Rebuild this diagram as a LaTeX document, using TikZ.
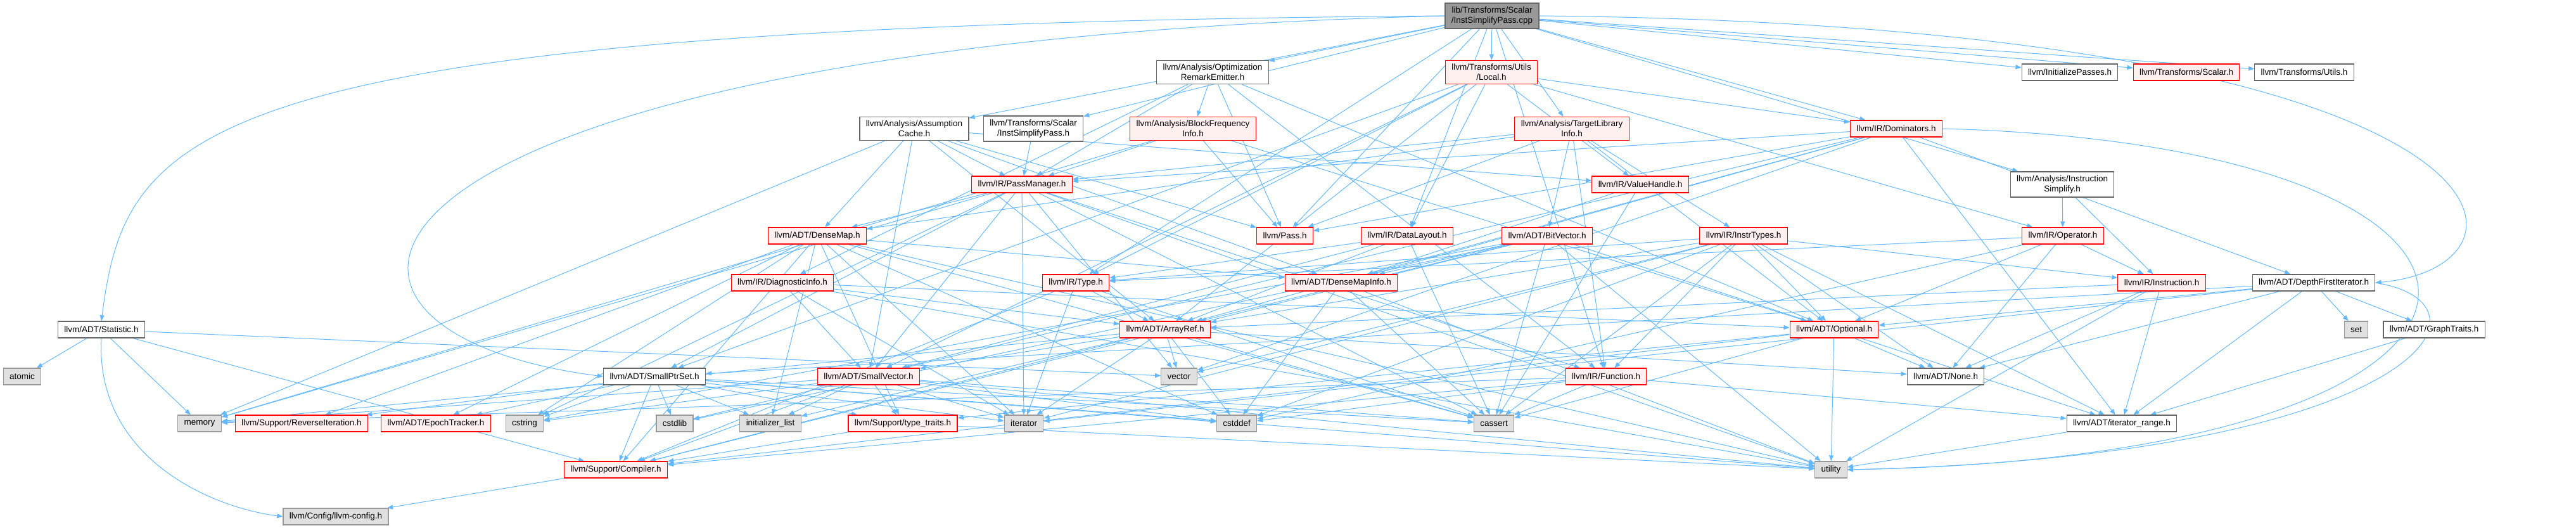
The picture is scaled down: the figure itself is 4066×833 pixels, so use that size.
\documentclass[tikz,border=0pt]{standalone}
\usepackage{fontspec}
\setmainfont{Liberation Sans}
\usetikzlibrary{arrows.meta,backgrounds}
\definecolor{edgeblue}{HTML}{63B8FF}
\definecolor{redline}{HTML}{FF0000}
\definecolor{redfill}{HTML}{FFF0F0}
\definecolor{sysfill}{HTML}{E0E0E0}
\definecolor{sysline}{HTML}{999999}
\definecolor{plainline}{HTML}{666666}
\definecolor{mainfill}{HTML}{999999}

\begin{document}
\begin{tikzpicture}[
    x=0.025cm, y=0.025cm,
    every node/.style={rectangle, line width=0.8pt, font=\fontsize{9.6}{11.5}\selectfont, inner xsep=7pt, inner ysep=4pt, minimum height=18.5pt, align=center},
    hdr/.style={draw=plainline, fill=white},
    trunc/.style={draw=redline, fill=redfill},
    sys/.style={draw=sysline, fill=sysfill},
    mainfile/.style={draw=plainline, fill=mainfill},
    inc/.style={draw=edgeblue, line width=0.7pt, -{Triangle[length=6.5pt,width=5pt]}}
]
\useasboundingbox (0,0) rectangle (4066,-833);

% ---- the file itself ----
\node[mainfile] (cpp) at (2355,-25) {lib/Transforms/Scalar\\/InstSimplifyPass.cpp};

% ---- analysis / pass headers ----
\node[hdr] (ore) at (1914,-114) {llvm/Analysis/Optimization\\RemarkEmitter.h};
\node[trunc] (local) at (2354,-114) {llvm/Transforms/Utils\\/Local.h};
\node[hdr] (initp) at (3267,-114) {llvm/InitializePasses.h};
\node[trunc] (tscalar) at (3451,-114) {llvm/Transforms/Scalar.h};
\node[hdr] (tutils) at (3637,-114) {llvm/Transforms/Utils.h};
\node[hdr] (acache) at (1443,-203) {llvm/Analysis/Assumption\\Cache.h};
\node[hdr] (isp) at (1631,-203) {llvm/Transforms/Scalar\\/InstSimplifyPass.h};
\node[trunc] (bfi) at (1883,-203) {llvm/Analysis/BlockFrequency\\Info.h};
\node[trunc] (tli) at (2481,-203) {llvm/Analysis/TargetLibrary\\Info.h};
\node[trunc] (dom) at (2993,-203) {llvm/IR/Dominators.h};
\node[trunc] (pm) at (1613,-291) {llvm/IR/PassManager.h};
\node[trunc] (vh) at (2589,-291) {llvm/IR/ValueHandle.h};
\node[hdr] (isimp) at (3255,-291) {llvm/Analysis/Instruction\\Simplify.h};

% ---- IR and ADT headers ----
\node[trunc] (dmap) at (1290,-372) {llvm/ADT/DenseMap.h};
\node[trunc] (pass) at (2028,-372) {llvm/Pass.h};
\node[trunc] (dl) at (2221,-372) {llvm/IR/DataLayout.h};
\node[trunc] (bv) at (2442,-372) {llvm/ADT/BitVector.h};
\node[trunc] (instrt) at (2752,-372) {llvm/IR/InstrTypes.h};
\node[trunc] (oper) at (3256,-372) {llvm/IR/Operator.h};
\node[trunc] (diag) at (1235,-446) {llvm/IR/DiagnosticInfo.h};
\node[trunc] (type) at (1698,-446) {llvm/IR/Type.h};
\node[trunc] (dmi) at (2117,-446) {llvm/ADT/DenseMapInfo.h};
\node[trunc] (inst) at (3412,-446) {llvm/IR/Instruction.h};
\node[hdr] (dfi) at (3652,-446) {llvm/ADT/DepthFirstIterator.h};
\node[hdr] (stat) at (160,-520) {llvm/ADT/Statistic.h};
\node[trunc] (aref) at (1839,-520) {llvm/ADT/ArrayRef.h};
\node[trunc] (opt) at (2895,-520) {llvm/ADT/Optional.h};
\node[sys] (stdset) at (3719,-520) {set};
\node[hdr] (gtraits) at (3842,-520) {llvm/ADT/GraphTraits.h};
\node[sys] (atomic) at (35,-594) {atomic};
\node[hdr] (sptr) at (1033,-594) {llvm/ADT/SmallPtrSet.h};
\node[trunc] (svec) at (1371,-594) {llvm/ADT/SmallVector.h};
\node[sys] (vector) at (1861,-594) {vector};
\node[trunc] (fn) at (2535,-594) {llvm/IR/Function.h};
\node[hdr] (none) at (3071,-594) {llvm/ADT/None.h};

% ---- leaves ----
\node[sys] (memory) at (315,-668) {memory};
\node[trunc] (reviter) at (476,-668) {llvm/Support/ReverseIteration.h};
\node[trunc] (epoch) at (688,-668) {llvm/ADT/EpochTracker.h};
\node[sys] (cstring) at (828,-668) {cstring};
\node[sys] (cstdlib) at (1065,-668) {cstdlib};
\node[sys] (initl) at (1216,-668) {initializer\_list};
\node[trunc] (ttraits) at (1425,-668) {llvm/Support/type\_traits.h};
\node[sys] (iter) at (1616,-668) {iterator};
\node[sys] (cstddef) at (1952,-668) {cstddef};
\node[sys] (cassert) at (2358,-668) {cassert};
\node[hdr] (itrange) at (3349,-668) {llvm/ADT/iterator\_range.h};
\node[trunc] (compiler) at (972,-741) {llvm/Support/Compiler.h};
\node[sys] (utility) at (2890,-741) {utility};
\node[sys] (config) at (530,-815) {llvm/Config/llvm-config.h};

\begin{scope}[on background layer]
% ---- includes of the file ----
\draw[inc] (cpp.west) .. controls (300,-40) and (200,-200) .. (stat.north);
\draw[inc] (cpp.west) .. controls (500,-70) and (380,-520) .. (sptr.west);
\draw[inc] (cpp.east) .. controls (4000,-40) and (4040,-420) .. (dfi.east);
\draw[inc] (cpp)--(ore); \draw[inc] (cpp)--(local); \draw[inc] (cpp)--(initp); \draw[inc] (cpp)--(tscalar); \draw[inc] (cpp)--(tutils);
\draw[inc] (cpp)--(acache); \draw[inc] (cpp)--(isp); \draw[inc] (cpp)--(tli); \draw[inc] (cpp)--(dom); \draw[inc] (cpp)--(isimp);
\draw[inc] (cpp)--(pass); \draw[inc] (cpp)--(dl); \draw[inc] (cpp)--(type); \draw[inc] (cpp)--(fn);

% ---- second level ----
\draw[inc] (ore)--(bfi); \draw[inc] (ore)--(pass); \draw[inc] (ore)--(pm); \draw[inc] (ore)--(diag); \draw[inc] (ore)--(opt); \draw[inc] (ore)--(fn);
\draw[inc] (local)--(aref); \draw[inc] (local)--(sptr); \draw[inc] (local)--(svec); \draw[inc] (local)--(dl); \draw[inc] (local)--(dom); \draw[inc] (local)--(oper); \draw[inc] (local)--(type); \draw[inc] (local)--(vh);
\draw[inc] (acache)--(aref); \draw[inc] (acache)--(dmap); \draw[inc] (acache)--(dmi); \draw[inc] (acache)--(svec); \draw[inc] (acache)--(pm); \draw[inc] (acache)--(vh); \draw[inc] (acache)--(pass); \draw[inc] (acache)--(memory);
\draw[inc] (isp)--(pm);
\draw[inc] (bfi)--(opt); \draw[inc] (bfi)--(pm); \draw[inc] (bfi)--(pass); \draw[inc] (bfi)--(memory);
\draw[inc] (tli)--(bv); \draw[inc] (tli)--(dmap); \draw[inc] (tli)--(opt); \draw[inc] (tli)--(fn); \draw[inc] (tli)--(instrt); \draw[inc] (tli)--(pm); \draw[inc] (tli)--(pass);
\draw[inc] (dom)--(aref); \draw[inc] (dom)--(dmi); \draw[inc] (dom)--(dfi); \draw[inc] (dom)--(svec); \draw[inc] (dom)--(itrange); \draw[inc] (dom)--(pm); \draw[inc] (dom)--(pass); \draw[inc] (dom)--(vector);
\draw[inc] (dom.east) .. controls (4090,-230) and (4090,-720) .. (utility.east);
\draw[inc] (isimp)--(inst); \draw[inc] (isimp)--(oper);
\draw[inc] (vh)--(dmi); \draw[inc] (vh)--(cassert);
\draw[inc] (pm)--(dmap); \draw[inc] (pm)--(sptr); \draw[inc] (pm)--(svec); \draw[inc] (pm)--(fn); \draw[inc] (pm)--(cassert); \draw[inc] (pm)--(cstring);
\draw[inc] (pm)--(iter); \draw[inc] (pm)--(memory); \draw[inc] (pm)--(utility); \draw[inc] (pm)--(vector);

% ---- IR headers ----
\draw[inc] (dl)--(aref); \draw[inc] (dl)--(svec); \draw[inc] (dl)--(type); \draw[inc] (dl)--(cassert);
\draw[inc] (bv)--(aref); \draw[inc] (bv)--(dmi); \draw[inc] (bv)--(itrange); \draw[inc] (bv)--(compiler); \draw[inc] (bv)--(cassert); \draw[inc] (bv)--(cstdlib); \draw[inc] (bv)--(cstring); \draw[inc] (bv)--(utility);
\draw[inc] (instrt)--(aref); \draw[inc] (instrt)--(none); \draw[inc] (instrt)--(opt); \draw[inc] (instrt)--(itrange); \draw[inc] (instrt)--(fn); \draw[inc] (instrt)--(inst);
\draw[inc] (instrt)--(type); \draw[inc] (instrt)--(cassert); \draw[inc] (instrt)--(cstddef); \draw[inc] (instrt)--(iter); \draw[inc] (instrt)--(vector);
\draw[inc] (oper)--(none); \draw[inc] (oper)--(opt); \draw[inc] (oper)--(inst); \draw[inc] (oper)--(type); \draw[inc] (oper)--(cstddef);
\draw[inc] (diag)--(aref); \draw[inc] (diag)--(opt); \draw[inc] (diag)--(svec); \draw[inc] (diag)--(iter); \draw[inc] (diag)--(utility);
\draw[inc] (type)--(aref); \draw[inc] (type)--(compiler); \draw[inc] (type)--(cassert); \draw[inc] (type)--(iter);
\draw[inc] (inst)--(aref); \draw[inc] (inst)--(none); \draw[inc] (inst)--(itrange); \draw[inc] (inst)--(utility);
\draw[inc] (fn)--(itrange); \draw[inc] (fn)--(compiler); \draw[inc] (fn)--(cassert); \draw[inc] (fn)--(cstddef); \draw[inc] (fn)--(memory);

% ---- ADT headers ----
\draw[inc] (dmap)--(dmi); \draw[inc] (dmap)--(epoch); \draw[inc] (dmap)--(reviter); \draw[inc] (dmap)--(ttraits); \draw[inc] (dmap)--(compiler); \draw[inc] (dmap)--(cassert);
\draw[inc] (dmap)--(cstddef); \draw[inc] (dmap)--(cstring); \draw[inc] (dmap)--(initl); \draw[inc] (dmap)--(iter); \draw[inc] (dmap)--(utility);
\draw[inc] (dmi)--(cassert); \draw[inc] (dmi)--(cstddef); \draw[inc] (dmi)--(utility);
\draw[inc] (dfi)--(gtraits); \draw[inc] (dfi)--(none); \draw[inc] (dfi)--(opt); \draw[inc] (dfi)--(sptr); \draw[inc] (dfi)--(itrange); \draw[inc] (dfi)--(iter); \draw[inc] (dfi)--(stdset);
\draw[inc] (dfi.east) .. controls (3960,-480) and (3820,-720) .. (utility.east);
\draw[inc] (gtraits)--(itrange);
\draw[inc] (stat)--(atomic); \draw[inc] (stat)--(memory); \draw[inc] (stat)--(compiler); \draw[inc] (stat)--(vector);
\draw[inc] (stat.south) .. controls (150,-720) and (330,-800) .. (config.west);
\draw[inc] (aref)--(none); \draw[inc] (aref)--(svec); \draw[inc] (aref)--(compiler); \draw[inc] (aref)--(cassert); \draw[inc] (aref)--(cstddef);
\draw[inc] (aref)--(initl); \draw[inc] (aref)--(iter); \draw[inc] (aref)--(memory); \draw[inc] (aref)--(vector);
\draw[inc] (opt)--(none); \draw[inc] (opt)--(compiler); \draw[inc] (opt)--(ttraits); \draw[inc] (opt)--(cassert); \draw[inc] (opt)--(utility);
\draw[inc] (sptr)--(epoch); \draw[inc] (sptr)--(reviter); \draw[inc] (sptr)--(compiler); \draw[inc] (sptr)--(ttraits); \draw[inc] (sptr)--(cassert); \draw[inc] (sptr)--(cstddef);
\draw[inc] (sptr)--(cstdlib); \draw[inc] (sptr)--(cstring); \draw[inc] (sptr)--(initl); \draw[inc] (sptr)--(iter); \draw[inc] (sptr)--(utility);
\draw[inc] (svec)--(compiler); \draw[inc] (svec)--(ttraits); \draw[inc] (svec)--(cassert); \draw[inc] (svec)--(cstddef); \draw[inc] (svec)--(cstdlib);
\draw[inc] (svec)--(cstring); \draw[inc] (svec)--(initl); \draw[inc] (svec)--(iter); \draw[inc] (svec)--(memory); \draw[inc] (svec)--(utility);
\draw[inc] (itrange)--(utility);
\draw[inc] (ttraits)--(compiler); \draw[inc] (ttraits)--(utility);
\draw[inc] (compiler)--(config);
\end{scope}
\end{tikzpicture}
\end{document}
